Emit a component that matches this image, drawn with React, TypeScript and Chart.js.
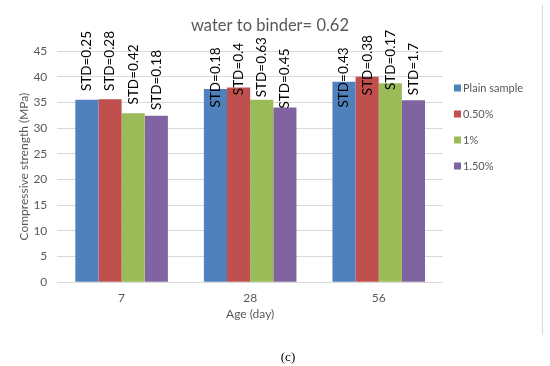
import React, { useEffect, useRef } from "react";
import { Chart, registerables } from "chart.js";

Chart.register(...registerables);

const chartTitle = "water to binder= 0.62";
const categories = ["7", "28", "56"];
const seriesNames = ["Plain sample", "0.50%", "1%", "1.50%"];
const plainSample = [35.5, 37.6, 39.0];
const half = [35.6, 37.9, 40.0];
const one = [32.9, 35.5, 38.7];
const oneHalf = [32.4, 34.0, 35.4];
const stdPlain = ["STD=0.25", "STD=0.18", "STD=0.43"];
const stdHalf = ["STD=0.28", "STD=0.4", "STD=0.38"];
const stdOne = ["STD=0.42", "STD=0.63", "STD=0.17"];
const stdOneHalf = ["STD=0.18", "STD=0.45", "STD=1.7"];
// value (MPa) at which each STD label text starts
const labelBasePlain = [37.2, 34.0, 34.0];
const labelBaseHalf = [37.2, 36.4, 36.4];
const labelBaseOne = [34.6, 36.0, 37.4];
const labelBaseOneHalf = [33.5, 33.8, 36.4];
const yTicksMax = 45;
const yStep = 5;

const colors = ["#4F81BD", "#C0504D", "#9BBB59", "#8064A2"];
const FONT = "Lato, 'Liberation Sans', sans-serif";

export default function App() {
  const ref = useRef<HTMLCanvasElement>(null);
  useEffect(() => {
    const values = [plainSample, half, one, oneHalf];
    const stds = [stdPlain, stdHalf, stdOne, stdOneHalf];
    const bases = [labelBasePlain, labelBaseHalf, labelBaseOne, labelBaseOneHalf];
    const extras = {
      id: "extras",
      afterDatasetsDraw(chart: any) {
        const ctx = chart.ctx;
        const y = chart.scales.y;
        ctx.save();
        // title
        ctx.fillStyle = "#595959";
        ctx.font = `16.5px ${FONT}`;
        ctx.textAlign = "center";
        ctx.textBaseline = "middle";
        ctx.fillText(chartTitle, 270, 26);
        // STD labels
        ctx.fillStyle = "#000";
        ctx.font = `13.5px ${FONT}`;
        ctx.textAlign = "left";
        ctx.textBaseline = "middle";
        chart.data.datasets.forEach((ds: any, di: number) => {
          const meta = chart.getDatasetMeta(di);
          meta.data.forEach((bar: any, i: number) => {
            const py = y.getPixelForValue(bases[di][i]);
            ctx.save();
            ctx.translate(bar.x, py);
            ctx.rotate(-Math.PI / 2);
            ctx.fillText(stds[di][i], 0, 0);
            ctx.restore();
          });
        });
        // legend
        const ca = chart.chartArea;
        const lx = ca.right + 11;
        const ly0 = 88;
        ctx.font = `11px ${FONT}`;
        ctx.textBaseline = "middle";
        seriesNames.forEach((n, k) => {
          const yy = ly0 + k * 26;
          ctx.fillStyle = colors[k];
          ctx.fillRect(lx, yy - 3.5, 7, 7);
          ctx.fillStyle = "#595959";
          ctx.fillText(n, lx + 9, yy);
        });
        // right border
        ctx.strokeStyle = "#D9D9D9";
        ctx.lineWidth = 1;
        ctx.beginPath();
        ctx.moveTo(542.5, 5);
        ctx.lineTo(542.5, 335);
        ctx.stroke();
        ctx.restore();
      },
    };
    const chart = new Chart(ref.current!, {
      type: "bar",
      data: {
        labels: categories,
        datasets: seriesNames.map((n, k) => ({
          label: n,
          data: values[k],
          backgroundColor: colors[k],
          borderWidth: 0,
          categoryPercentage: 0.72,
          barPercentage: 1,
        })),
      },
      options: {
        responsive: false,
        animation: false,
        layout: { padding: { left: 13, right: 107, top: 51, bottom: 41 } },
        plugins: {
          legend: { display: false },
          tooltip: { enabled: false },
          title: { display: false },
        },
        scales: {
          x: {
            grid: { display: false, drawTicks: false },
            border: { display: false },
            ticks: { color: "#595959", font: { family: FONT, size: 12 }, padding: 9 },
            title: {
              display: true,
              text: "Age (day)",
              color: "#595959",
              font: { family: FONT, size: 12 },
              padding: { top: -8, bottom: 4 },
            },
          },
          y: {
            min: 0,
            max: yTicksMax,
            ticks: { stepSize: yStep, color: "#595959", font: { family: FONT, size: 12 }, padding: 10 },
            grid: { color: "#D9D9D9", drawTicks: false },
            border: { display: false },
            title: {
              display: true,
              text: "Compressive strength (MPa)",
              color: "#595959",
              font: { family: FONT, size: 12 },
              padding: { top: 4, bottom: -8 },
            },
          },
        },
      },
      plugins: [extras],
    });
    return () => chart.destroy();
  }, []);
  return (
    <div style={{ position: "absolute", left: 0, top: 0, width: 550, height: 366, background: "#fff" }}>
      <canvas ref={ref} width={550} height={366} style={{ display: "block" }} />
      <div
        style={{
          position: "absolute",
          left: 0,
          width: 576,
          top: 349,
          textAlign: "center",
          fontFamily: "'Liberation Serif', serif",
          fontSize: 13,
          color: "#000",
        }}
      >
        (c)
      </div>
    </div>
  );
}
